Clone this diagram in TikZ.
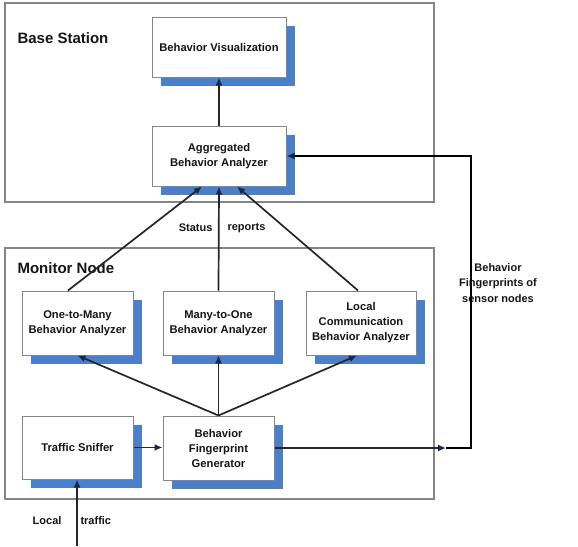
\documentclass[tikz,border=0pt]{standalone}
\usepackage{fontspec}
\setmainfont{Liberation Sans}
\usetikzlibrary{shadows,arrows.meta,calc}
\definecolor{shadowblue}{HTML}{4A7FCC}
\definecolor{txt}{HTML}{151515}
\definecolor{linec}{HTML}{262626}
\definecolor{tipc}{HTML}{172848}
\definecolor{framec}{HTML}{858585}
\tikzset{
  blk/.style={draw=framec, line width=1pt, fill=white, align=center, text=txt,
    font=\bfseries\fontsize{11.2}{15}\selectfont,
    general shadow={fill=shadowblue, shadow xshift=8.5pt, shadow yshift=-9pt}},
  region/.style={draw=framec, line width=1.1pt},
  arr/.style={draw=linec, line width=1.7pt, -{Latex[length=8pt,width=7pt,fill=tipc,color=tipc]}},
  lbl/.style={text=txt, font=\bfseries\fontsize{11}{15.5}\selectfont, align=center},
  title/.style={text=txt, font=\bfseries\fontsize{15}{18}\selectfont, anchor=west}
}
\begin{document}
\begin{tikzpicture}[x=1pt,y=-1pt]
\useasboundingbox (0,0) rectangle (578,546);
% regions
\draw[region] (5,3) rectangle (434,202);
\draw[region] (5,248) rectangle (434,499);
\node[title] (bs) at (14,38) {Base Station};
\node[title] (mn) at (14,268) {Monitor Node};
% blocks
\node[blk, minimum width=134pt, minimum height=60pt] (bv) at (219,47) {Behavior Visualization};
\node[blk, minimum width=134pt, minimum height=60pt] (aba) at (219,156) {Aggregated\\Behavior Analyzer};
\node[blk, minimum width=111pt, minimum height=64pt] (otm) at (77.5,323) {One-to-Many\\Behavior Analyzer};
\node[blk, minimum width=111pt, minimum height=64pt] (mto) at (218.5,323) {Many-to-One\\Behavior Analyzer};
\node[blk, minimum width=110pt, minimum height=64pt] (lca) at (361,323) {Local\\Communication\\Behavior Analyzer};
\node[blk, minimum width=111pt, minimum height=63pt] (ts) at (77.5,447.5) {Traffic Sniffer};
\node[blk, minimum width=111pt, minimum height=64pt] (bfg) at (218.5,448) {Behavior\\Fingerprint\\Generator};
% labels
\node[lbl, anchor=east] (st) at (216,228) {Status};
\node[lbl, anchor=west] (rp) at (224,228) {reports};
\node[lbl, anchor=east] (lt1) at (65,521) {Local};
\node[lbl, anchor=west] (lt2) at (77,521) {traffic};
\node[lbl] (bf) at (498,283) {Behavior\\Fingerprints of\\sensor nodes};
% coordinates
\coordinate (src) at (77,546);
\coordinate (fbmid) at (446,448);
\coordinate (fbcorner) at (471,448);
% connectors
\draw[arr] (aba.north) -- (bv.south);
\draw[arr] ([xshift=-9.5pt]otm.north) -- ([xshift=-17pt]aba.south);
\draw[arr] (mto.north) -- (aba.south);
\draw[arr] ([xshift=-3pt]lca.north) -- ([xshift=18pt]aba.south);
\draw[arr] (bfg.north) -- (otm.south);
\draw[arr] (bfg.north) -- (mto.south);
\draw[arr] (bfg.north) -- ([xshift=-4pt]lca.south);
\draw[arr] (ts.east) -- (bfg.west |- ts.east);
\draw[arr] (src) -- (src |- ts.south);
\draw[arr] (bfg.east) -- (fbmid);
\draw[arr, line width=2pt, draw=black] (fbmid) -- (fbcorner) |- (aba.east);
\end{tikzpicture}
\end{document}
